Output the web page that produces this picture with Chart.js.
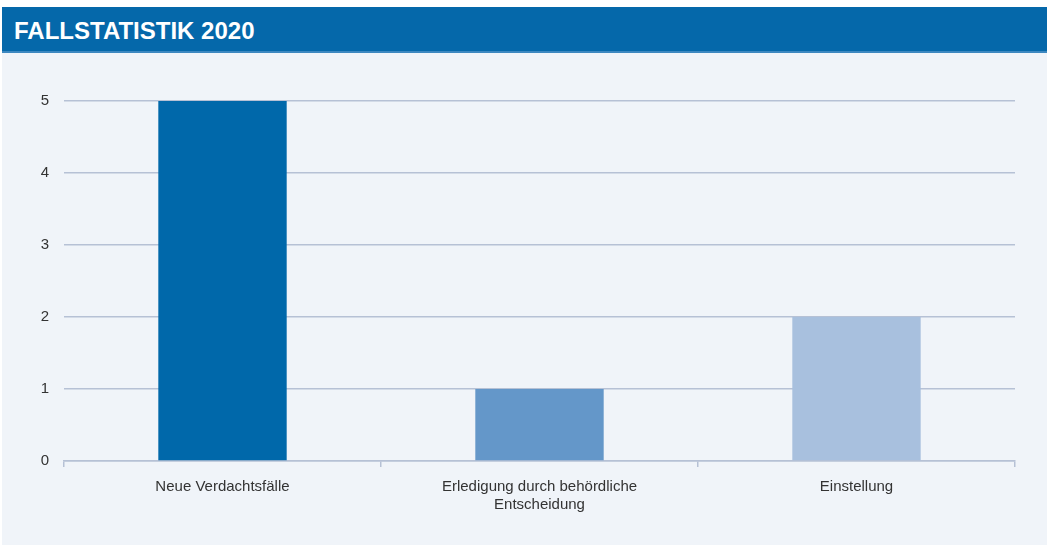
<!DOCTYPE html>
<html>
<head>
<meta charset="utf-8">
<script src="https://cdn.jsdelivr.net/npm/chart.js@4"></script>
<style>
  body { margin: 0; background: #ffffff; }
  #panel { position: absolute; left: 2px; top: 7px; width: 1045px; height: 538px; background: #f0f4f9; }
  #header { height: 44px; background: #0568aa; border-bottom: 2px solid #3d88c0; color: #ffffff;
    font: bold 24px "Liberation Sans", Arial, sans-serif; line-height: 47px; padding-left: 12px; }
  #wrap { position: absolute; left: -2px; top: 46px; width: 1047px; height: 492px; }
</style>
</head>
<body>
<div id="panel">
  <div id="header">FALLSTATISTIK 2020</div>
  <div id="wrap"><canvas id="fallChart"></canvas></div>
</div>
<script>
// Fallstatistik 2020
const categories = ["Neue Verdachtsfälle", ["Erledigung durch behördliche", "Entscheidung"], "Einstellung"];
const caseCounts = [5, 1, 2];
const barColors = ["#0068aa", "#6497c9", "#a8c0de"];
const yTicks = [0, 1, 2, 3, 4, 5];

const gridColor = "#b6c1d5";

new Chart(document.getElementById("fallChart"), {
  type: "bar",
  data: {
    labels: categories,
    datasets: [
      {
        label: "Fälle",
        data: caseCounts,
        backgroundColor: barColors,
        barPercentage: 0.5,
        categoryPercentage: 0.81
      }
    ]
  },
  options: {
    responsive: true,
    maintainAspectRatio: false,
    animation: false,
    layout: { padding: { top: 48, right: 32, bottom: 20, left: 0 } },
    plugins: { legend: { display: false }, tooltip: { enabled: false } },
    scales: {
      x: {
        grid: { offset: true, drawOnChartArea: false, color: gridColor, lineWidth: 1.5, tickLength: 6 },
        border: { color: gridColor, width: 1.5 },
        ticks: { color: "#333333", padding: 11, font: { family: "Liberation Sans", size: 15 }, maxRotation: 0 },
        afterFit: (axis) => { axis.height = 64; }
      },
      y: {
        min: 0,
        max: 5,
        afterBuildTicks: (axis) => { axis.ticks = yTicks.map((v) => ({ value: v })); },
        grid: { color: gridColor, lineWidth: 1.5, drawTicks: false },
        border: { display: false },
        ticks: { color: "#333333", padding: 15, font: { family: "Liberation Sans", size: 15 } },
        afterFit: (axis) => { axis.width = 64; }
      }
    }
  }
});
</script>
</body>
</html>
